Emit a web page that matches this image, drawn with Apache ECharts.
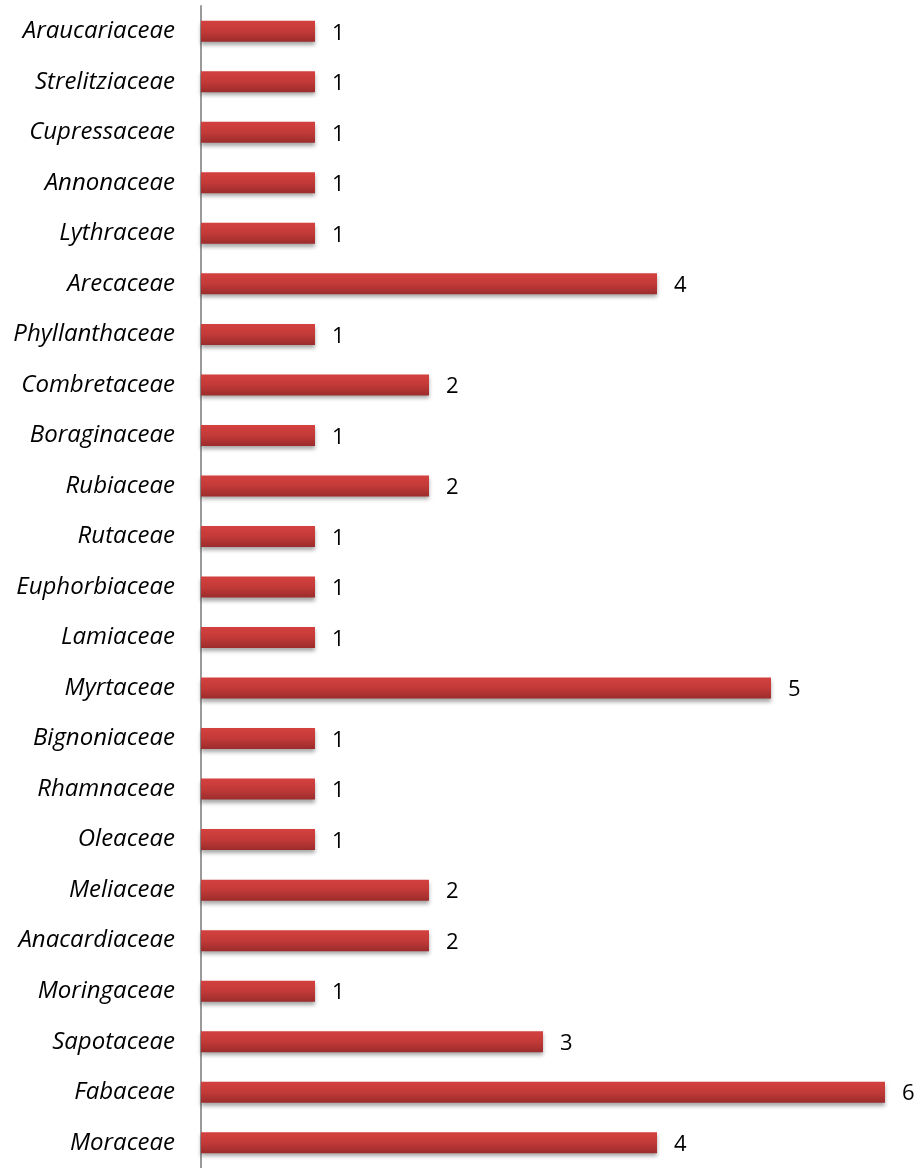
<!DOCTYPE html>
<html><head><meta charset="utf-8">
<script src="https://cdn.jsdelivr.net/npm/echarts@6/dist/echarts.min.js"></script>
<style>html,body{margin:0;padding:0;background:#fff}#c{width:920px;height:1168px}</style>
</head><body><div id="c"></div>
<script>
const families = ["Araucariaceae","Strelitziaceae","Cupressaceae","Annonaceae","Lythraceae","Arecaceae","Phyllanthaceae","Combretaceae","Boraginaceae","Rubiaceae","Rutaceae","Euphorbiaceae","Lamiaceae","Myrtaceae","Bignoniaceae","Rhamnaceae","Oleaceae","Meliaceae","Anacardiaceae","Moringaceae","Sapotaceae","Fabaceae","Moraceae"];
const counts = [1,1,1,1,1,4,1,2,1,2,1,1,1,5,1,1,1,2,2,1,3,6,4];

const chart = echarts.init(document.getElementById('c'), null, {renderer:'canvas'});
chart.setOption({
  animation:false,
  grid:{left:201, top:6, width:684, height:1166, containLabel:false},
  xAxis:{type:'value', min:0, max:6, show:false},
  yAxis:{type:'category', data:families, inverse:true,
    axisLine:{show:true, lineStyle:{color:'#9a9a9a', width:2}},
    axisTick:{show:false},
    axisLabel:{margin:26, padding:[4,0,0,0], fontFamily:'"Open Sans", sans-serif', fontStyle:'italic', fontSize:24, color:'#000'}
  },
  series:[{type:'bar', data:counts, barWidth:21,
    itemStyle:{
      color:new echarts.graphic.LinearGradient(0,0,0,1,[{offset:0,color:'#d4413f'},{offset:0.5,color:'#c23a38'},{offset:1,color:'#9b2c2c'}]),
      shadowColor:'rgba(0,0,0,0.35)', shadowBlur:4, shadowOffsetY:3
    },
    label:{show:true, position:'right', distance:17, offset:[0,2], fontFamily:'"Open Sans", sans-serif', fontSize:22, color:'#000'}
  }]
});
</script></body></html>
